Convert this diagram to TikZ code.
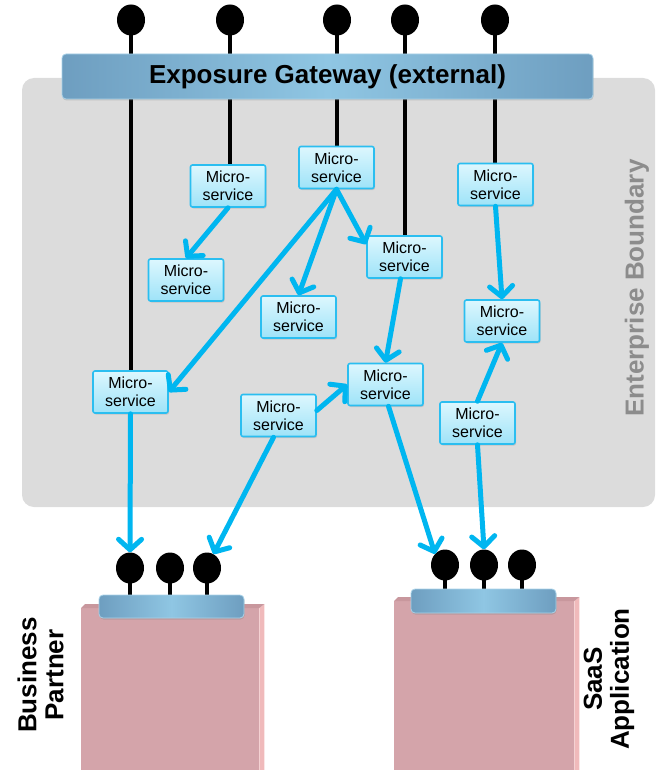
\documentclass[tikz,border=0pt]{standalone}
\usepackage{fontspec}
\setmainfont{Liberation Sans}
\usetikzlibrary{arrows.meta,shapes.geometric,shadows,calc}

\definecolor{boundgray}{HTML}{DCDCDC}
\definecolor{boundtext}{HTML}{8C8C8C}
\definecolor{bardark}{HTML}{6E9EC0}
\definecolor{barlight}{HTML}{8FC6E3}
\definecolor{barrim}{HTML}{A9D2E8}
\definecolor{mstop}{HTML}{DDF7FE}
\definecolor{msbot}{HTML}{9EE3F8}
\definecolor{msedge}{HTML}{2BBEF0}
\definecolor{flowblue}{HTML}{00B6F0}
\definecolor{pinkface}{HTML}{D4A4AA}
\definecolor{pinkside}{HTML}{F0BABB}
\definecolor{pinktop}{HTML}{C8979D}

\pgfdeclarelayer{bg}
\pgfdeclarelayer{wires}
\pgfsetlayers{bg,wires,main}

\begin{document}
\begin{tikzpicture}[x=1pt,y=-1pt,
  msbox/.style={draw=msedge, line width=1.6pt, rounded corners=2pt,
    top color=mstop, bottom color=msbot,
    minimum width=75pt, minimum height=42pt, inner sep=0pt, align=center,
    font=\fontsize{16}{18}\selectfont,
    drop shadow={shadow xshift=1pt, shadow yshift=-1.5pt, opacity=0.25}},
  flow/.style={draw=flowblue, line width=5pt, line cap=round,
    -{Straight Barb[length=10.5pt,width=23pt,round]}},
  wire/.style={draw=black, line width=4.5pt},
  stem/.style={draw=black, line width=4pt},
  ball/.style={ellipse, fill=black, minimum width=28pt, minimum height=31pt, inner sep=0pt},
  bar/.style={rounded corners=4pt, left color=bardark, right color=bardark,
    middle color=barlight, draw=barrim, line width=0.8pt,
    drop shadow={shadow xshift=0.5pt, shadow yshift=-1.5pt, opacity=0.3}},
  pinkbox/.style={fill=pinkface, inner sep=0pt, anchor=north west},
  sidelabel/.style={rotate=90, align=center, font=\bfseries\fontsize{26}{27}\selectfont}
]
\useasboundingbox (0,0) rectangle (658,770);

% enterprise boundary
\begin{pgfonlayer}{bg}
  \fill[boundgray, rounded corners=12pt] (22,78) rectangle (655,507);
\end{pgfonlayer}
\node[sidelabel, text=boundtext] (eb) at (637,288) {Enterprise Boundary};

% exposure gateway
\node[bar, minimum width=531pt, minimum height=45pt, inner sep=0pt,
  font=\bfseries\fontsize{26}{28}\selectfont] (gw) at (327.5,76.5) {Exposure Gateway (external)};

% top endpoints
\node[ball] (t1) at (131,20) {};
\node[ball] (t2) at (230,20) {};
\node[ball] (t3) at (337,20) {};
\node[ball] (t4) at (405,20) {};
\node[ball] (t5) at (495,20) {};

% microservices
\node[msbox] (ms1) at (228,186) {Micro-\\service};
\node[msbox] (ms2) at (186,280) {Micro-\\service};
\node[msbox] (ms3) at (336.5,167.5) {Micro-\\service};
\node[msbox] (ms4) at (404.5,257) {Micro-\\service};
\node[msbox] (ms5) at (298.5,317) {Micro-\\service};
\node[msbox] (ms6) at (130.5,392) {Micro-\\service};
\node[msbox] (ms7) at (385.5,384.5) {Micro-\\service};
\node[msbox] (ms8) at (278.5,415.5) {Micro-\\service};
\node[msbox] (ms9) at (502,321) {Micro-\\service};
\node[msbox] (ms10) at (477.5,423) {Micro-\\service};
\node[msbox] (ms11) at (495.5,184.5) {Micro-\\service};

% gateway wires into the services
\begin{pgfonlayer}{wires}
  \draw[wire] (t1.center) -- (t1 |- ms6.north);
  \draw[wire] (t2.center) -- (t2 |- ms1.north);
  \draw[wire] (t3.center) -- (t3 |- ms3.north);
  \draw[wire] (t4.center) -- (t4 |- ms4.north);
  \draw[wire] (t5.center) -- (t5 |- ms11.north);
\end{pgfonlayer}

% business partner system
\node[pinkbox, minimum width=178pt, minimum height=166pt] (bpbox) at (81,608) {};
\fill[pinkside] (bpbox.north east) -- ++(5,-4) -- ($(bpbox.south east)+(5,0)$) -- (bpbox.south east) -- cycle;
\fill[pinktop] (bpbox.north west) -- ++(4,-4) -- ($(bpbox.north east)+(5,-4)$) -- (bpbox.north east) -- cycle;
\node[ball] (bp1) at (130,568) {};
\node[ball] (bp2) at (170,568) {};
\node[ball] (bp3) at (207,568) {};
\node[bar, minimum width=145pt, minimum height=23pt, inner sep=0pt] (bpbar) at (171.5,606.5) {};
\begin{pgfonlayer}{wires}
  \draw[stem] (bp1.center) -- (bp1 |- bpbar.north);
  \draw[stem] (bp2.center) -- (bp2 |- bpbar.north);
  \draw[stem] (bp3.center) -- (bp3 |- bpbar.north);
\end{pgfonlayer}
\node[sidelabel] (bplabel) at (40.5,675) {Business\\Partner};

% SaaS application system
\node[pinkbox, minimum width=180pt, minimum height=173pt] (sabox) at (394,601) {};
\fill[pinkside] (sabox.north east) -- ++(5,-4) -- ($(sabox.south east)+(5,0)$) -- (sabox.south east) -- cycle;
\fill[pinktop] (sabox.north west) -- ++(4,-4) -- ($(sabox.north east)+(5,-4)$) -- (sabox.north east) -- cycle;
\node[ball] (sa1) at (445,565) {};
\node[ball] (sa2) at (484,565) {};
\node[ball] (sa3) at (522,565) {};
\node[bar, minimum width=145pt, minimum height=24pt, inner sep=0pt] (sabar) at (483.5,601) {};
\begin{pgfonlayer}{wires}
  \draw[stem] (sa1.center) -- (sa1 |- sabar.north);
  \draw[stem] (sa2.center) -- (sa2 |- sabar.north);
  \draw[stem] (sa3.center) -- (sa3 |- sabar.north);
\end{pgfonlayer}
\node[sidelabel] (salabel) at (609,679) {SaaS\\Application};

% service-to-service calls
\draw[flow] (ms1.south) -- (ms2.north);
\draw[flow] (ms3.south) -- (ms6.east);
\draw[flow] (ms3.south) -- (ms5.north);
\draw[flow] (ms3.south) -- ([yshift=-9pt]ms4.north west);
\draw[flow] ([xshift=-4pt]ms4.south) -- (ms7.north);
\draw[flow] ([yshift=5pt]ms8.east) -- (ms7.west);
\draw[flow] (ms11.south) -- (ms9.north);
\draw[flow] (ms10.north) -- (ms9.south);

% calls out to the external endpoints
\draw[flow] (ms6.south) -- (bp1.north);
\draw[flow] ([xshift=-5pt]ms8.south) -- (bp3.65);
\draw[flow] ([xshift=3pt]ms7.south) -- (sa1.north west);
\draw[flow] (ms10.south) -- (sa2.north);
\end{tikzpicture}
\end{document}
